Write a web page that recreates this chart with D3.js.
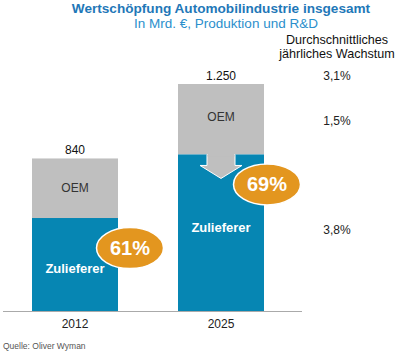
<!DOCTYPE html>
<html><head><meta charset="utf-8">
<script src="https://cdn.jsdelivr.net/npm/d3@7"></script>
<style>
html,body{margin:0;padding:0;background:#fff;}
svg{display:block;font-family:"Liberation Sans",Arial,sans-serif;}
</style></head>
<body><svg id="c" width="400" height="355"></svg>
<script>
const years = ["2012", "2025"];
const zulieferer = [512, 862];
const oem = [328, 388];
const totalLabels = ["840", "1.250"];
const shareLabels = ["61%", "69%"];
const growthLabels = ["3,1%", "1,5%", "3,8%"];
const growthHeader = ["Durchschnittliches", "jährliches Wachstum"];
const title = "Wertschöpfung Automobilindustrie insgesamt";
const subtitle = "In Mrd. €, Produktion und R&D";
const source = "Quelle: Oliver Wyman";

const BLUE = "#0686b3", GRAY = "#bfbfbf", ORANGE = "#e3961f";
const svg = d3.select("#c");

const x = d3.scaleBand().domain(years).range([32, 264]).paddingInner(60/146).paddingOuter(0);
const y = d3.scaleLinear().domain([0, 1250]).range([311, 84]);
const bw = x.bandwidth();

// title
svg.append("text").attr("x", 221).attr("y", 13).attr("text-anchor", "middle")
  .attr("font-size", 13.6).attr("font-weight", "bold").attr("fill", "#1f78b8").text(title);
svg.append("text").attr("x", 226).attr("y", 28).attr("text-anchor", "middle")
  .attr("font-size", 13.5).attr("fill", "#2b8fcc").text(subtitle);

// bars
const g = svg.append("g");
years.forEach((yr, i) => {
  const x0 = x(yr), cx = x0 + bw/2;
  const tot = zulieferer[i] + oem[i];
  g.append("rect").attr("x", x0).attr("width", bw)
    .attr("y", y(tot)).attr("height", y(zulieferer[i]) - y(tot)).attr("fill", GRAY);
  g.append("rect").attr("x", x0).attr("width", bw)
    .attr("y", y(zulieferer[i])).attr("height", y(0) - y(zulieferer[i])).attr("fill", BLUE);
  g.append("text").attr("x", cx).attr("y", y(tot) - 4).attr("text-anchor", "middle")
    .attr("font-size", 12).attr("fill", "#111").text(totalLabels[i]);
  g.append("text").attr("x", cx).attr("y", y((zulieferer[i] + tot)/2) + 4 + (i ? -2 : 0)).attr("text-anchor", "middle")
    .attr("font-size", 12).attr("fill", "#333").text("OEM");
});

// arrow in 2025 bar
{
  const cx = x("2025") + bw/2;
  const top = y(zulieferer[1]);
  const path = d3.path();
  path.moveTo(cx - 14, top);
  path.lineTo(cx + 14, top);
  path.lineTo(cx + 14, top + 11);
  path.lineTo(cx + 21, top + 11);
  path.lineTo(cx, top + 24);
  path.lineTo(cx - 21, top + 11);
  path.lineTo(cx - 14, top + 11);
  path.closePath();
  g.append("path").attr("d", path.toString()).attr("fill", GRAY).attr("stroke", "#fff").attr("stroke-width", 1);
  g.append("rect").attr("x", cx - 13.5).attr("y", top - 2).attr("width", 27).attr("height", 4).attr("fill", GRAY);
}

// Zulieferer labels
const zlOff = [3, -6];
years.forEach((yr, i) => {
  g.append("text").attr("x", x(yr) + bw/2).attr("y", y(zulieferer[i]/2) + 5 + zlOff[i])
    .attr("text-anchor", "middle").attr("font-size", 13).attr("font-weight", "bold")
    .attr("fill", "#fff").text("Zulieferer");
});

// share ellipses
const elOff = [55, 46];
years.forEach((yr, i) => {
  const cx = x(yr) + bw/2 + elOff[i];
  const cy = y(zulieferer[i]) + 30;
  g.append("ellipse").attr("cx", cx).attr("cy", cy).attr("rx", 33.5).attr("ry", 20.5)
    .attr("fill", ORANGE).attr("stroke", "#fff").attr("stroke-width", 1.5);
  g.append("text").attr("x", cx).attr("y", cy + 7).attr("text-anchor", "middle")
    .attr("font-size", 20).attr("font-weight", "bold").attr("fill", "#fff").text(shareLabels[i]);
});

// axis
const axis = svg.append("g").attr("transform", `translate(0,${y(0)})`)
  .call(d3.axisBottom(x).tickSize(0).tickPadding(8));
axis.select(".domain").remove();
axis.selectAll("text").attr("font-size", 12).attr("fill", "#222")
  .attr("font-family", "Liberation Sans, Arial, sans-serif");
svg.append("line").attr("x1", 3).attr("x2", 302).attr("y1", y(0) + 0.5).attr("y2", y(0) + 0.5)
  .attr("stroke", "#aaa").attr("stroke-width", 1.2);

// growth column
const gx = 337;
growthHeader.forEach((t, k) => {
  svg.append("text").attr("x", gx).attr("y", 44 + k*14).attr("text-anchor", "middle")
    .attr("font-size", 12.6).attr("fill", "#111").text(t);
});
const gy = [y(zulieferer[1] + oem[1]) - 6, y(zulieferer[1] + oem[1]/2), y(zulieferer[1]/2)];
growthLabels.forEach((t, k) => {
  svg.append("text").attr("x", gx).attr("y", gy[k] + 4 + (k===0?-2:0) + (k===1?2:0) + (k===2?-3:0)).attr("text-anchor", "middle")
    .attr("font-size", 12).attr("fill", "#222").text(t);
});

// source
svg.append("text").attr("x", 3).attr("y", 349).attr("font-size", 8.5).attr("fill", "#555").text(source);
</script></body></html>
